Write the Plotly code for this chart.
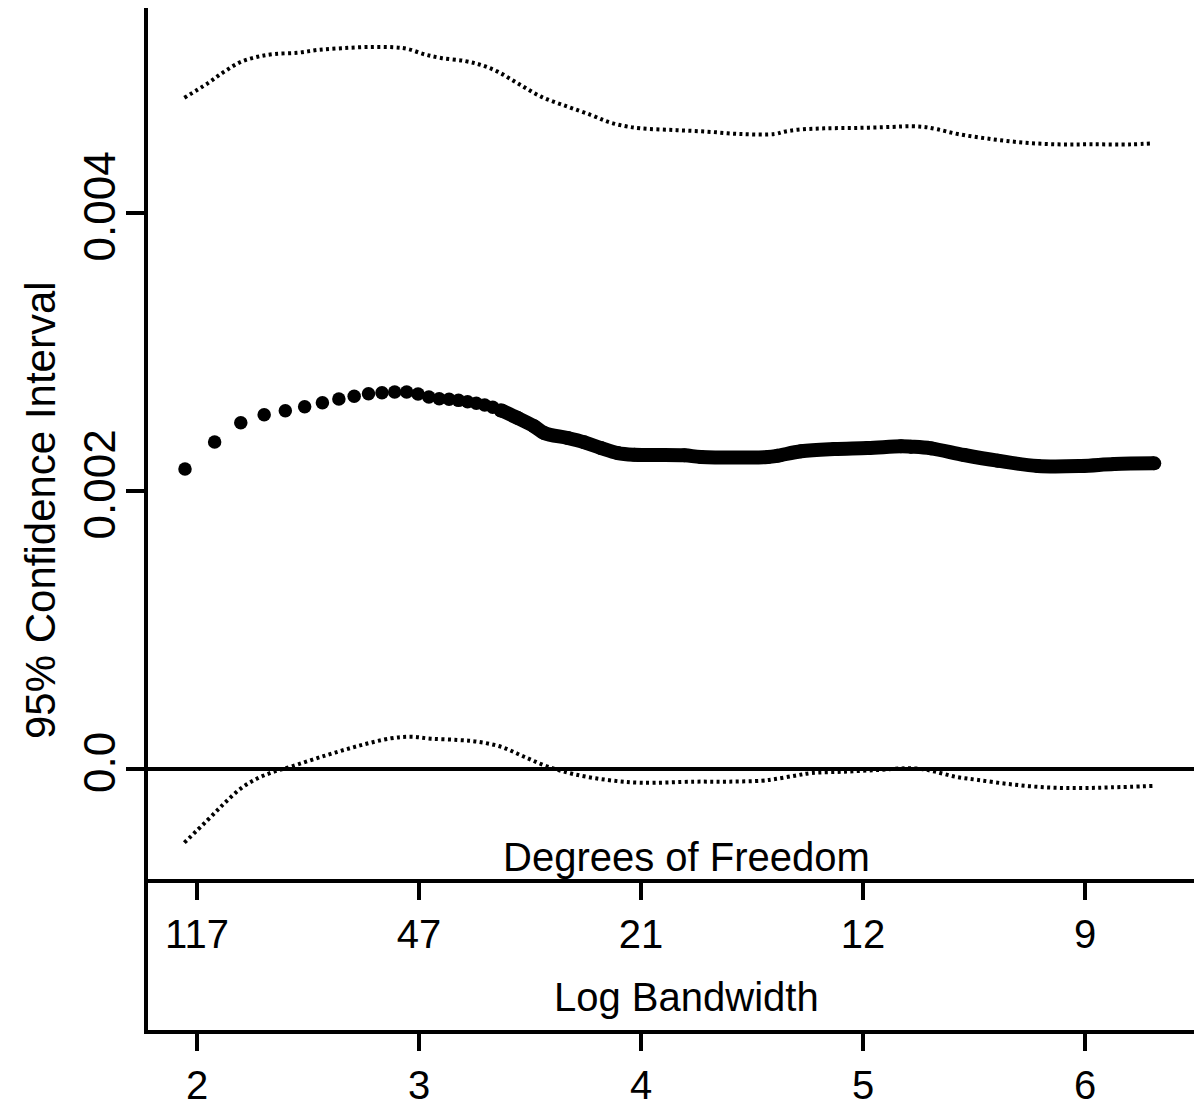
import numpy as np
import plotly.graph_objects as go

# ---------------- data ----------------
# Point estimate, individually visible points (bandwidth h, value)
mean_bw = [7, 8, 9, 10, 11, 12, 13, 14, 15, 16, 17, 18, 19, 20, 21, 22, 23, 24, 25, 26, 27, 28, 29]
mean_vals = [0.002158, 0.002352, 0.002491, 0.002549, 0.002578, 0.002606, 0.002635, 0.002662,
             0.002681, 0.002700, 0.002707, 0.002712, 0.002712, 0.002698, 0.002676, 0.002664,
             0.002660, 0.002652, 0.002642, 0.002631, 0.002619, 0.002602, 0.002578]

# Point estimate, dense part where points merge (log bandwidth, value)
dense_logbw = [3.369, 3.445, 3.519, 3.564, 3.670, 3.745, 3.820, 3.895, 3.970, 4.195, 4.270,
               4.571, 4.616, 4.721, 4.871, 5.021, 5.171, 5.216, 5.306, 5.456, 5.607, 5.787,
               5.982, 6.132, 6.312]
dense_vals = [0.002581, 0.002525, 0.002465, 0.002417, 0.002381, 0.002350, 0.002309, 0.002273,
              0.002261, 0.002257, 0.002245, 0.002245, 0.002254, 0.002286, 0.002302, 0.002309,
              0.002322, 0.002319, 0.002307, 0.002259, 0.002218, 0.002180, 0.002180, 0.002194,
              0.002199]

# Upper 95% limit
upper_logbw = [1.943, 2.048, 2.123, 2.198, 2.273, 2.348, 2.454, 2.544, 2.649, 2.769, 2.889,
               2.949, 3.024, 3.099, 3.204, 3.279, 3.354, 3.445, 3.550, 3.670, 3.775, 3.850,
               3.925, 4.000, 4.150, 4.300, 4.450, 4.601, 4.646, 4.706, 4.826, 4.976, 5.126,
               5.216, 5.276, 5.336, 5.427, 5.577, 5.727, 5.877, 6.027, 6.207, 6.306]
upper_vals = [0.004829, 0.004933, 0.005017, 0.005088, 0.005124, 0.005144, 0.005153, 0.005173,
              0.005185, 0.005194, 0.005192, 0.005180, 0.005142, 0.005115, 0.005094, 0.005065,
              0.005017, 0.004933, 0.004837, 0.004765, 0.004705, 0.004657, 0.004626, 0.004609,
              0.004597, 0.004585, 0.004568, 0.004568, 0.004585, 0.004599, 0.004609, 0.004612,
              0.004619, 0.004624, 0.004619, 0.004602, 0.004568, 0.004532, 0.004506, 0.004494,
              0.004494, 0.004494, 0.004501]

# Lower 95% limit
lower_logbw = [1.943, 2.048, 2.123, 2.198, 2.273, 2.348, 2.423, 2.573, 2.724, 2.874, 2.964,
               3.054, 3.174, 3.264, 3.369, 3.474, 3.580, 3.700, 3.850, 4.000, 4.243, 4.393,
               4.544, 4.604, 4.694, 4.769, 4.919, 5.069, 5.189, 5.264, 5.324, 5.414, 5.519,
               5.665, 5.820, 5.970, 6.120, 6.308]
lower_vals = [-0.000530, -0.000367, -0.000247, -0.000139, -0.000067, -0.000019, 0.000017,
              0.000094, 0.000165, 0.000221, 0.000232, 0.000218, 0.000209, 0.000196, 0.000160,
              0.000088, 0.000017, -0.000038, -0.000079, -0.000099, -0.000091, -0.000091,
              -0.000084, -0.000072, -0.000048, -0.000029, -0.000019, -0.000007, 0.000005,
              0.000000, -0.000019, -0.000055, -0.000079, -0.000110, -0.000132, -0.000137,
              -0.000132, -0.000122]

bw_ticks = [2, 3, 4, 5, 6]
bw_ticklabels = ["2", "3", "4", "5", "6"]
df_ticklabels = ["117", "47", "21", "12", "9"]
y_ticks = [0.0, 0.002, 0.004]
y_ticklabels = ["0.0", "0.002", "0.004"]

# ---------------- figure ----------------
W, H = 1194, 1106
ML, MR, MT, MB = 148, 0, 8, 76
PX_PER_X = 222.0
X2_PX = 197.0
x_range = [2 - (X2_PX - ML) / PX_PER_X, 2 + (W - MR - X2_PX) / PX_PER_X]
PX_PER_Y = 139000.0
Y0_PX = 769.0
y_range = [-((H - MB) - Y0_PX) / PX_PER_Y, (Y0_PX - MT) / PX_PER_Y]
plot_h = H - MT - MB

HFONT = "Liberation Sans, Arial, Helvetica, sans-serif"
VFONT = "Liberation Sans, Arial, Helvetica, sans-serif"
HSIZE = 40

fig = go.Figure()

dot_dash = "3px,3.4px"
fig.add_trace(go.Scatter(x=upper_logbw, y=upper_vals, mode="lines",
                         line=dict(color="black", width=4, dash=dot_dash, shape="spline"),
                         hoverinfo="skip", showlegend=False))
fig.add_trace(go.Scatter(x=lower_logbw, y=lower_vals, mode="lines",
                         line=dict(color="black", width=4, dash=dot_dash, shape="spline"),
                         hoverinfo="skip", showlegend=False))
fig.add_trace(go.Scatter(x=dense_logbw, y=dense_vals, mode="lines+markers",
                         line=dict(color="black", width=14, shape="spline"),
                         marker=dict(color="black", size=14),
                         hoverinfo="skip", showlegend=False))
fig.add_trace(go.Scatter(x=np.log(mean_bw), y=mean_vals, mode="markers",
                         marker=dict(color="black", size=13.5),
                         hoverinfo="skip", showlegend=False))
# carrier trace for the degrees-of-freedom axis
fig.add_trace(go.Scatter(x=[bw_ticks[0]], y=[0], xaxis="x2", mode="markers",
                         marker=dict(opacity=0, size=1), hoverinfo="skip", showlegend=False))

axis_common = dict(showline=True, linewidth=3.5, linecolor="black", ticks="outside",
                   tickwidth=3.5, tickcolor="black", showgrid=False, zeroline=False,
                   automargin=False)

df_axis_px = 881.0
df_pos = ((H - MB) - df_axis_px) / plot_h

fig.update_layout(
    width=W, height=H,
    autosize=False,
    margin=dict(l=ML, r=MR, t=MT, b=MB, pad=0, autoexpand=False),
    plot_bgcolor="white", paper_bgcolor="white",
    showlegend=False,
    xaxis=dict(range=x_range, tickvals=bw_ticks, ticktext=bw_ticklabels, ticklen=17,
               tickfont=dict(family=HFONT, size=HSIZE, color="black"), **axis_common),
    xaxis2=dict(range=x_range, overlaying="x", matches="x", anchor="free", position=df_pos,
                side="bottom", tickvals=bw_ticks, ticktext=df_ticklabels, ticklen=17,
                tickfont=dict(family=HFONT, size=HSIZE, color="black"), **axis_common),
    yaxis=dict(range=y_range, tickvals=y_ticks, ticktext=y_ticklabels, ticklen=18,
               tickangle=-90, tickfont=dict(family=VFONT, size=44, color="black"),
               ticklabelstandoff=-6,
               showline=True, linewidth=3.5, linecolor="black", ticks="outside",
               tickwidth=3.5, tickcolor="black", showgrid=False, automargin=False,
               zeroline=True, zerolinewidth=3.5, zerolinecolor="black"),
    annotations=[
        dict(text="Degrees of Freedom", x=2 + (686 - X2_PX) / PX_PER_X, xref="x",
             y=((H - MB) - 857) / plot_h, yref="paper", showarrow=False,
             xanchor="center", yanchor="middle",
             font=dict(family=HFONT, size=HSIZE, color="black")),
        dict(text="Log Bandwidth", x=2 + (686 - X2_PX) / PX_PER_X, xref="x",
             y=((H - MB) - 997) / plot_h, yref="paper", showarrow=False,
             xanchor="center", yanchor="middle",
             font=dict(family=HFONT, size=HSIZE, color="black")),
        dict(text="95% Confidence Interval", x=(40 - ML) / (W - ML - MR), xref="paper",
             y=((H - MB) - 510) / plot_h, yref="paper", showarrow=False, textangle=-90,
             xanchor="center", yanchor="middle",
             font=dict(family=VFONT, size=42, color="black")),
    ],
)

fig.write_html("out.html")
